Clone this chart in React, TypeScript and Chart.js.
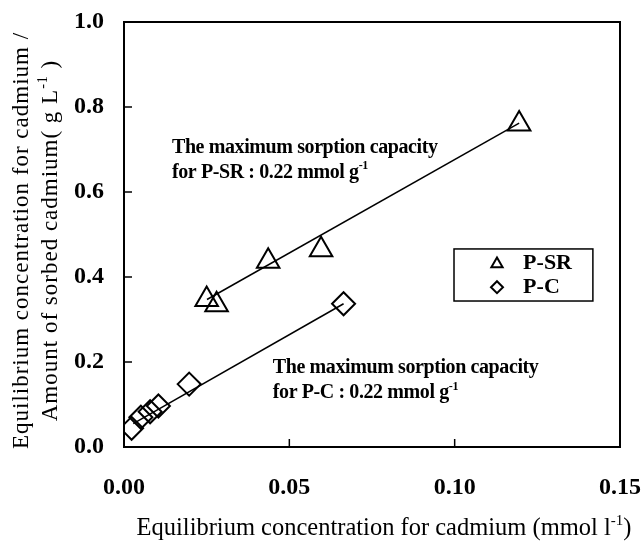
import React, { useEffect, useRef } from 'react';
import { Chart, registerables } from 'chart.js';

Chart.register(...registerables);

const FONT = '"Liberation Serif", "Times New Roman", serif';

// ---- data ----
const seriesNames = ['P-SR', 'P-C'];
const psrX = [0.025, 0.028, 0.0436, 0.0596, 0.1195];
const psrY = [0.347, 0.335, 0.437, 0.464, 0.760];
const pcX = [0.0023, 0.0051, 0.0079, 0.0104, 0.0197, 0.0664];
const pcY = [0.044, 0.070, 0.083, 0.0965, 0.148, 0.337];
// fitted lines (end points)
const psrFitX = [0.0251, 0.1195];
const psrFitY = [0.347, 0.762];
const pcFitX = [0.0028, 0.0664];
const pcFitY = [0.055, 0.337];
// ticks
const xTickValues = [0, 0.05, 0.1, 0.15];
const xTickLabels = ['0.00', '0.05', '0.10', '0.15'];
const yTickValues = [0, 0.2, 0.4, 0.6, 0.8, 1.0];
const yTickLabels = ['0.0', '0.2', '0.4', '0.6', '0.8', '1.0'];
// texts
const yTitle1 = 'Equilibrium concentration for cadmium /';
const yTitle2 = 'Amount of sorbed cadmium( g L';
const xTitle = 'Equilibrium concentration for cadmium (mmol l';
const noteHead = 'The maximum sorption capacity';
const notePSR = 'for P-SR : 0.22 mmol g';
const notePC = 'for P-C : 0.22 mmol g';

type Part = { t: string; sup?: boolean };

function drawRich(
  ctx: CanvasRenderingContext2D,
  parts: Part[],
  x: number,
  y: number,
  size: number,
  weight: string,
  align: 'left' | 'center',
  spacing = 0
) {
  const setFont = (sup?: boolean) => {
    ctx.font = `${weight} ${sup ? Math.round(size * 0.62) : size}px ${FONT}`;
  };
  (ctx as any).letterSpacing = spacing + 'px';
  let total = 0;
  const widths = parts.map((p) => {
    setFont(p.sup);
    const w = ctx.measureText(p.t).width;
    total += w;
    return w;
  });
  let cx = align === 'center' ? x - total / 2 : x;
  ctx.textBaseline = 'middle';
  ctx.textAlign = 'left';
  ctx.fillStyle = '#000';
  parts.forEach((p, i) => {
    setFont(p.sup);
    ctx.fillText(p.t, cx, p.sup ? y - size * 0.33 : y);
    cx += widths[i];
  });
  (ctx as any).letterSpacing = '0px';
}

function triPath(ctx: CanvasRenderingContext2D, x: number, y: number, r: number) {
  ctx.beginPath();
  for (let i = 0; i < 3; i++) {
    const a = (i * 2 * Math.PI) / 3;
    const px = x + Math.sin(a) * r;
    const py = y - Math.cos(a) * r;
    if (i === 0) ctx.moveTo(px, py);
    else ctx.lineTo(px, py);
  }
  ctx.closePath();
}

function diaPath(ctx: CanvasRenderingContext2D, x: number, y: number, r: number) {
  ctx.beginPath();
  ctx.moveTo(x, y - r);
  ctx.lineTo(x + r, y);
  ctx.lineTo(x, y + r);
  ctx.lineTo(x - r, y);
  ctx.closePath();
}

const decorPlugin = {
  id: 'decor',
  afterDraw(chart: any) {
    const ctx: CanvasRenderingContext2D = chart.ctx;
    const { left, right, top, bottom } = chart.chartArea;
    const xs = chart.scales.x;
    const ys = chart.scales.y;
    ctx.save();
    ctx.strokeStyle = '#000';
    ctx.lineWidth = 2;
    ctx.strokeRect(left, top, right - left, bottom - top);
    // inner tick marks
    ctx.lineWidth = 1.5;
    yTickValues.slice(1, -1).forEach((v) => {
      const py = ys.getPixelForValue(v);
      ctx.beginPath();
      ctx.moveTo(left, py);
      ctx.lineTo(left + 8, py);
      ctx.stroke();
    });
    xTickValues.slice(1, -1).forEach((v) => {
      const px = xs.getPixelForValue(v);
      ctx.beginPath();
      ctx.moveTo(px, bottom);
      ctx.lineTo(px, bottom - 8);
      ctx.stroke();
    });

    // annotations (anchored in data units)
    const a1x = xs.getPixelForValue(0.0145);
    drawRich(ctx, [{ t: noteHead }], a1x, ys.getPixelForValue(0.7035), 20, 'bold', 'left', -0.4);
    drawRich(ctx, [{ t: notePSR }, { t: '-1', sup: true }], a1x, ys.getPixelForValue(0.645), 20, 'bold', 'left', -0.4);
    const a2x = xs.getPixelForValue(0.045);
    drawRich(ctx, [{ t: noteHead }], a2x, ys.getPixelForValue(0.186), 20, 'bold', 'left', -0.4);
    drawRich(ctx, [{ t: notePC }, { t: '-1', sup: true }], a2x, ys.getPixelForValue(0.127), 20, 'bold', 'left', -0.4);

    // legend box
    const lx0 = xs.getPixelForValue(0.0998);
    const lx1 = xs.getPixelForValue(0.1418);
    const ly0 = ys.getPixelForValue(0.466);
    const ly1 = ys.getPixelForValue(0.3435);
    ctx.lineWidth = 1.5;
    ctx.strokeRect(lx0, ly0, lx1 - lx0, ly1 - ly0);
    const mx = xs.getPixelForValue(0.1128);
    const tx = xs.getPixelForValue(0.1207);
    const r1 = ys.getPixelForValue(0.433);
    const r2 = ys.getPixelForValue(0.376);
    ctx.lineWidth = 2;
    triPath(ctx, mx, r1 + 1, 6.5);
    ctx.stroke();
    diaPath(ctx, mx, r2, 6);
    ctx.stroke();
    drawRich(ctx, [{ t: seriesNames[0] }], tx, r1, 22, 'bold', 'left');
    drawRich(ctx, [{ t: seriesNames[1] }], tx, r2, 22, 'bold', 'left');

    // axis titles
    const cy = (top + bottom) / 2 + 6;
    ctx.save();
    ctx.translate(22, cy);
    ctx.rotate(-Math.PI / 2);
    drawRich(ctx, [{ t: yTitle1 }], 0, 0, 23, 'normal', 'center', 1);
    ctx.restore();
    ctx.save();
    ctx.translate(51, cy);
    ctx.rotate(-Math.PI / 2);
    drawRich(ctx, [{ t: yTitle2 }, { t: '-1', sup: true }, { t: ' )' }], 0, 0, 23, 'normal', 'center', 1);
    ctx.restore();
    drawRich(ctx, [{ t: xTitle }, { t: '-1', sup: true }, { t: ')' }], (left + right) / 2 + 12, 529, 24.5, 'normal', 'center');
    ctx.restore();
  },
};

export default function App() {
  const ref = useRef<HTMLCanvasElement | null>(null);
  useEffect(() => {
    if (!ref.current) return;
    const tickFont = { family: FONT, size: 24, weight: 'bold' as const };
    const chart = new Chart(ref.current, {
      type: 'scatter',
      data: {
        datasets: [
          {
            label: seriesNames[0],
            data: psrX.map((x, i) => ({ x, y: psrY[i] })),
            pointStyle: 'triangle',
            pointRadius: 13,
            pointBorderWidth: 2,
            borderColor: '#000',
            backgroundColor: 'rgba(0,0,0,0)',
            showLine: false,
          },
          {
            label: seriesNames[1],
            data: pcX.map((x, i) => ({ x, y: pcY[i] })),
            pointStyle: 'rectRot',
            pointRadius: 11.5,
            pointBorderWidth: 2,
            borderColor: '#000',
            backgroundColor: 'rgba(0,0,0,0)',
            showLine: false,
          },
          {
            label: 'fit P-SR',
            data: psrFitX.map((x, i) => ({ x, y: psrFitY[i] })),
            showLine: true,
            pointRadius: 0,
            borderColor: '#000',
            borderWidth: 1.5,
          },
          {
            label: 'fit P-C',
            data: pcFitX.map((x, i) => ({ x, y: pcFitY[i] })),
            showLine: true,
            pointRadius: 0,
            borderColor: '#000',
            borderWidth: 1.5,
          },
        ],
      },
      options: {
        animation: false,
        responsive: false,
        devicePixelRatio: 1,
        layout: { padding: { top: 22, right: 21, left: 0, bottom: 0 } },
        plugins: { legend: { display: false }, tooltip: { enabled: false } },
        scales: {
          x: {
            type: 'linear',
            min: 0,
            max: 0.15,
            afterFit: (s: any) => {
              s.height = 96;
              s.paddingLeft = 0;
              s.paddingRight = 0;
            },
            afterBuildTicks: (s: any) => {
              s.ticks = xTickValues.map((v) => ({ value: v }));
            },
            ticks: {
              font: tickFont,
              color: '#000',
              padding: 26,
              maxRotation: 0,
              autoSkip: false,
              callback: (_v: any, i: number) => xTickLabels[i],
            },
            grid: { display: false, drawTicks: false },
            border: { display: false },
          },
          y: {
            type: 'linear',
            min: 0,
            max: 1,
            afterFit: (s: any) => {
              s.width = 124;
              s.paddingTop = 0;
              s.paddingBottom = 0;
            },
            afterBuildTicks: (s: any) => {
              s.ticks = yTickValues.map((v) => ({ value: v }));
            },
            ticks: {
              font: tickFont,
              color: '#000',
              padding: 20,
              autoSkip: false,
              callback: (_v: any, i: number) => yTickLabels[i],
            },
            grid: { display: false, drawTicks: false },
            border: { display: false },
          },
        },
      },
      plugins: [decorPlugin],
    });
    return () => chart.destroy();
  }, []);
  return (
    <div style={{ position: 'absolute', left: 0, top: 0, width: 641, height: 543, background: '#fff' }}>
      <canvas ref={ref} width={641} height={543} style={{ display: 'block' }} />
    </div>
  );
}
